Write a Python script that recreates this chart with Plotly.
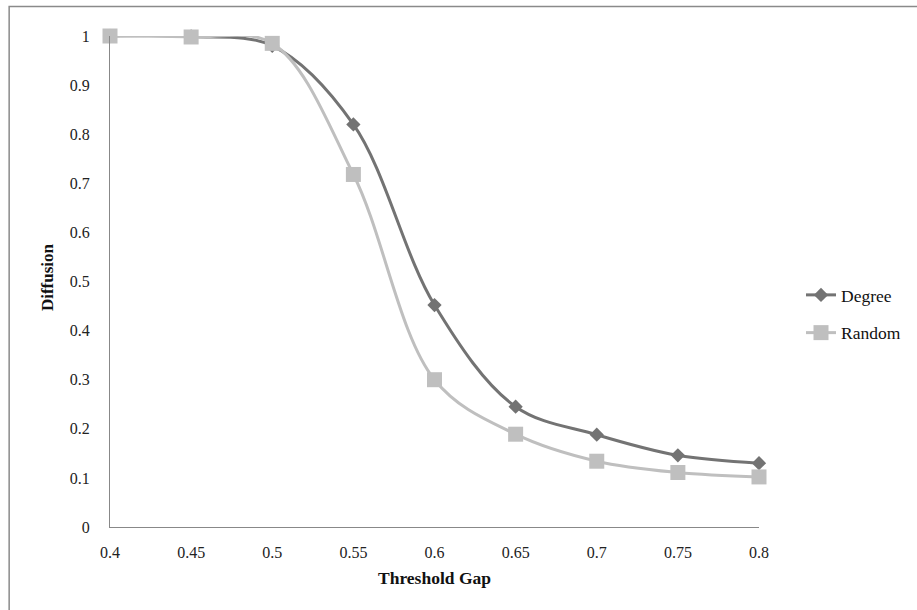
import plotly.graph_objects as go

threshold_gap = [0.4, 0.45, 0.5, 0.55, 0.6, 0.65, 0.7, 0.75, 0.8]
degree = [1.0, 0.999, 0.98, 0.82, 0.452, 0.245, 0.188, 0.146, 0.130]
random_ = [1.0, 0.998, 0.985, 0.718, 0.300, 0.189, 0.134, 0.111, 0.102]
x_ticks = [0.4, 0.45, 0.5, 0.55, 0.6, 0.65, 0.7, 0.75, 0.8]
y_ticks = [0, 0.1, 0.2, 0.3, 0.4, 0.5, 0.6, 0.7, 0.8, 0.9, 1]

FONT = "Times New Roman, Liberation Serif, serif"

fig = go.Figure()
fig.add_trace(go.Scatter(
    x=threshold_gap, y=degree, name="Degree", mode="lines+markers",
    line=dict(color="#737373", width=3, shape="spline", smoothing=1),
    marker=dict(symbol="diamond", size=11, color="#737373"),
    cliponaxis=False, legendgroup="a"))
fig.add_trace(go.Scatter(
    x=threshold_gap, y=random_, name="Random", mode="lines+markers",
    line=dict(color="#BFBFBF", width=3, shape="spline", smoothing=1),
    marker=dict(symbol="square", size=15, color="#BFBFBF"),
    cliponaxis=False, legendgroup="b"))

axis_common = dict(showgrid=False, zeroline=False, showline=True,
                   linecolor="#888888", linewidth=1, ticks="",
                   tickfont=dict(family=FONT, size=16, color="#222222"))

fig.update_xaxes(range=[0.4, 0.8], tickvals=x_ticks,
                 ticktext=[f"{v:g}" for v in x_ticks], ticklabelstandoff=11, **axis_common)
fig.update_yaxes(range=[0, 1], tickvals=y_ticks,
                 ticktext=[f"{v:g}" for v in y_ticks], ticklabelstandoff=16, **axis_common)

fig.add_annotation(text="<b>Diffusion</b>", textangle=-90, x=(47 - 110) / 650, y=(527 - 277) / 491,
                   xref="paper", yref="paper", showarrow=False,
                   xanchor="center", yanchor="middle",
                   font=dict(family=FONT, size=17, color="#111111"))
fig.add_annotation(text="<b>Threshold Gap</b>", x=0.5, y=(527 - 578) / 491,
                   xref="paper", yref="paper", showarrow=False,
                   xanchor="center", yanchor="middle",
                   font=dict(family=FONT, size=17.5, color="#111111"))

fig.add_shape(type="rect", xref="paper", yref="paper",
              x0=(9 - 110) / 650, x1=(1000 - 110) / 650,
              y0=(527 - 700) / 491, y1=(527 - 6.5) / 491,
              line=dict(color="#8a8a8a", width=1.5), layer="below")

fig.update_layout(
    width=917, height=610,
    margin=dict(l=110, r=157, t=36, b=83),
    paper_bgcolor="white", plot_bgcolor="white",
    font=dict(family=FONT, size=16, color="#111111"),
    legend=dict(x=(801 - 110) / 650, xanchor="left", y=(527 - 277) / 491, yanchor="top",
                traceorder="grouped", tracegroupgap=12,
                font=dict(family=FONT, size=17.5, color="#111111"),
                bgcolor="rgba(0,0,0,0)"),
    showlegend=True,
)

fig.write_html("out.html")
